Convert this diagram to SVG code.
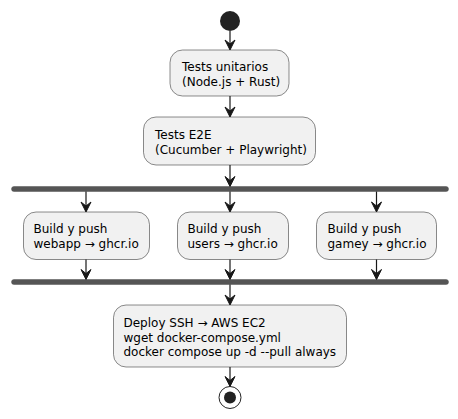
<svg xmlns="http://www.w3.org/2000/svg" width="458" height="419" viewBox="0 0 458 419">
<defs>
<style>
.box{fill:#F1F1F1;stroke:#181818;stroke-width:0.5}
.bar{fill:#555555;stroke:#555555;stroke-width:0.5}
.ln{stroke:#181818;stroke-width:1.2;fill:none}
.ah{fill:#181818;stroke:#181818;stroke-width:1}
text{font-family:"DejaVu Sans",sans-serif;font-size:12px;fill:#000000}
</style>
</defs>
<rect width="458" height="419" fill="#FFFFFF"/>
<g id="start"><circle cx="230" cy="21" r="10" fill="#222222"/></g>
<g id="n1"><rect class="box" x="170" y="50" width="119" height="46" rx="12.5"/>
<text x="182" y="71">Tests unitarios</text><text x="182" y="86">(Node.js + Rust)</text></g>
<g id="n2"><rect class="box" x="143.5" y="117" width="172" height="48" rx="12.5"/>
<text x="155" y="138.5">Tests E2E</text><text x="155" y="153.5">(Cucumber + Playwright)</text></g>
<g id="fork"><rect class="bar" x="11.5" y="186.5" width="437" height="5" rx="2.5"/></g>
<g id="n3"><rect class="box" x="23.5" y="212" width="126" height="47.5" rx="12.5"/>
<text x="33.5" y="233">Build y push</text><text x="33.5" y="247.5">webapp → ghcr.io</text></g>
<g id="n4"><rect class="box" x="177.5" y="212" width="111" height="47.5" rx="12.5"/>
<text x="187.5" y="233">Build y push</text><text x="187.5" y="247.5">users → ghcr.io</text></g>
<g id="n5"><rect class="box" x="316.5" y="212" width="120" height="47.5" rx="12.5"/>
<text x="327.5" y="233">Build y push</text><text x="327.5" y="247.5">gamey → ghcr.io</text></g>
<g id="join"><rect class="bar" x="11.5" y="279.5" width="437" height="5" rx="2.5"/></g>
<g id="n6"><rect class="box" x="113.5" y="305" width="233" height="62" rx="12.5"/>
<text x="123.5" y="327">Deploy SSH → AWS EC2</text><text x="123.5" y="341.5">wget docker-compose.yml</text><text x="123.5" y="356">docker compose up -d --pull always</text></g>
<g id="end"><circle cx="230" cy="397.5" r="11" fill="none" stroke="#222222" stroke-width="1"/><circle cx="230" cy="397.5" r="6" fill="#222222"/></g>
<g id="connectors">
<line class="ln" x1="230" y1="31" x2="230" y2="49"/><polygon class="ah" points="225,40 230,50 235,40 230,44"/>
<line class="ln" x1="230" y1="96" x2="230" y2="116"/><polygon class="ah" points="225,107 230,117 235,107 230,111"/>
<line class="ln" x1="230" y1="165" x2="230" y2="186"/><polygon class="ah" points="225,176.5 230,186.5 235,176.5 230,180.5"/>
<line class="ln" x1="86" y1="191.5" x2="86" y2="211"/><polygon class="ah" points="81,202 86,212 91,202 86,206"/>
<line class="ln" x1="230" y1="191.5" x2="230" y2="211"/><polygon class="ah" points="225,202 230,212 235,202 230,206"/>
<line class="ln" x1="376.5" y1="191.5" x2="376.5" y2="211"/><polygon class="ah" points="371.5,202 376.5,212 381.5,202 376.5,206"/>
<line class="ln" x1="86" y1="259.5" x2="86" y2="279"/><polygon class="ah" points="81,269.5 86,279.5 91,269.5 86,273.5"/>
<line class="ln" x1="230" y1="259.5" x2="230" y2="279"/><polygon class="ah" points="225,269.5 230,279.5 235,269.5 230,273.5"/>
<line class="ln" x1="376.5" y1="259.5" x2="376.5" y2="279"/><polygon class="ah" points="371.5,269.5 376.5,279.5 381.5,269.5 376.5,273.5"/>
<line class="ln" x1="230" y1="284.5" x2="230" y2="304"/><polygon class="ah" points="225,295 230,305 235,295 230,299"/>
<line class="ln" x1="230" y1="367" x2="230" y2="386"/><polygon class="ah" points="225,376.5 230,386.5 235,376.5 230,380.5"/>
</g>
</svg>
